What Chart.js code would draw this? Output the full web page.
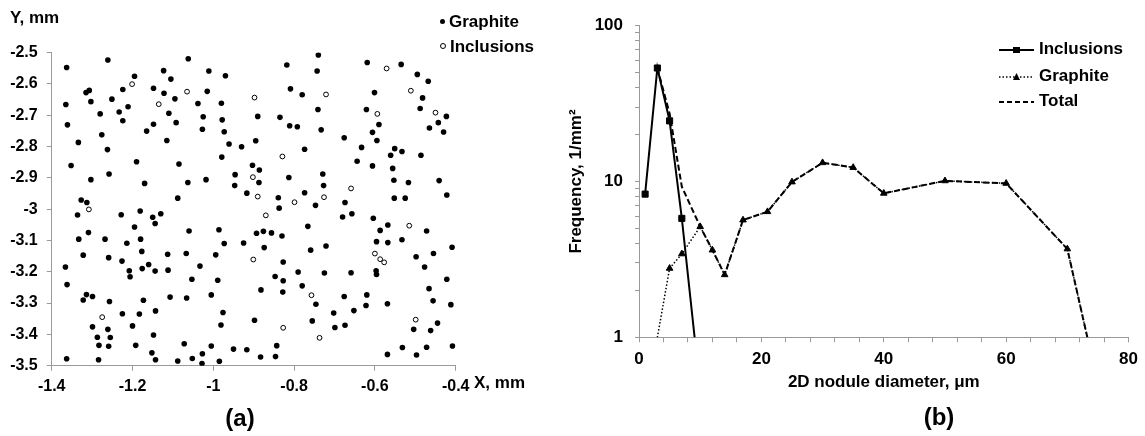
<!DOCTYPE html>
<html lang="en">
<head>
    <meta charset="UTF-8">
    <title>Graphite and inclusions</title>
    <script src="https://cdn.jsdelivr.net/npm/chart.js"></script>
    <style>
        body {
            margin: 0;
            background: #ffffff;
            font-family: 'Liberation Sans', Arial, sans-serif;
            font-weight: bold;
            color: #000;
        }

        #wrap {
            position: relative;
            width: 1145px;
            height: 436px;
            overflow: hidden;
        }

        canvas {
            position: absolute;
            top: 0;
        }

        .txt {
            position: absolute;
            font-size: 17px;
            line-height: 20px;
            white-space: nowrap;
        }

        .caption {
            position: absolute;
            font-size: 24px;
            line-height: 28px;
            transform: translateX(-50%);
        }

        .dot {
            display: inline-block;
            width: 5px;
            height: 5px;
            border-radius: 50%;
            background: #000;
            margin-right: 4px;
            vertical-align: 3px;
        }

        .dot.open {
            width: 4px;
            height: 4px;
            background: #fff;
            border: 1px solid #000;
        }

        .legend-row svg {
            vertical-align: -1px;
            margin-right: 5px;
        }
    </style>
</head>
<body>
<div id="wrap">
    <canvas id="posChart" width="560" height="436" style="left:0"></canvas>
    <canvas id="freqChart" width="585" height="436" style="left:560px"></canvas>

    <div class="txt" style="left:10px; top:8px">Y, mm</div>
    <div class="txt" style="left:474px; top:373px">X, mm</div>
    <div class="txt" style="left:440px; top:12px"><span class="dot"></span>Graphite</div>
    <div class="txt" style="left:440px; top:37px"><span class="dot open"></span>Inclusions</div>

    <div class="txt legend-row" style="left:999px; top:39px">
        <svg width="35" height="10"><line x1="0" y1="5" x2="35" y2="5" stroke="#000" stroke-width="2"/><rect x="14" y="2" width="7" height="6" fill="#000"/></svg>Inclusions</div>
    <div class="txt legend-row" style="left:999px; top:66px">
        <svg width="35" height="10"><line x1="0" y1="5" x2="35" y2="5" stroke="#000" stroke-width="1.5" stroke-dasharray="1.5,2"/><polygon points="17.5,1 21,8 14,8" fill="#000"/></svg>Graphite</div>
    <div class="txt legend-row" style="left:999px; top:91px">
        <svg width="35" height="10"><line x1="0" y1="5" x2="35" y2="5" stroke="#000" stroke-width="2" stroke-dasharray="5,3"/></svg>Total</div>

    <div class="caption" style="left:240px; top:404px">(a)</div>
    <div class="caption" style="left:939px; top:403px">(b)</div>
</div>

<script>
    // (a) nodule positions, mm  [x, y]
    const graphitePos = [
        [-1.363,-2.548],[-1.261,-2.524],[-1.195,-2.576],[-1.062,-2.520],[-1.123,-2.558],[-1.105,-2.585],
        [-1.011,-2.559],[-0.970,-2.574],[-1.365,-2.666],[-1.315,-2.628],[-1.307,-2.621],[-1.303,-2.657],
        [-1.251,-2.649],[-1.224,-2.618],[-1.211,-2.673],[-1.233,-2.690],[-1.224,-2.718],[-1.148,-2.614],
        [-1.122,-2.630],[-1.095,-2.648],[-1.110,-2.694],[-1.038,-2.663],[-1.015,-2.624],[-1.025,-2.705],
        [-1.361,-2.731],[-1.280,-2.696],[-1.276,-2.763],[-1.334,-2.787],[-1.262,-2.810],[-1.352,-2.861],
        [-1.148,-2.729],[-1.165,-2.751],[-1.092,-2.724],[-1.115,-2.781],[-1.027,-2.745],[-0.980,-2.662],
        [-0.978,-2.715],[-0.973,-2.753],[-0.961,-2.792],[-0.930,-2.801],[-0.890,-2.704],[-0.895,-2.782],
        [-1.190,-2.849],[-1.085,-2.856],[-1.258,-2.888],[-1.303,-2.906],[-1.170,-2.918],[-1.063,-2.915],
        [-1.018,-2.906],[-0.979,-2.834],[-0.946,-2.890],[-0.947,-2.925],[-0.903,-2.860],[-0.886,-2.875],
        [-0.887,-2.915],
        [-1.327,-2.971],[-1.313,-2.979],[-1.336,-3.019],[-1.228,-3.018],[-1.181,-3.006],[-1.150,-3.026],
        [-1.144,-3.046],[-1.130,-3.015],[-1.088,-2.965],[-0.917,-2.949],[-0.839,-2.964],[-0.837,-2.997],
        [-1.333,-3.096],[-1.309,-3.075],[-1.268,-3.096],[-1.195,-3.057],[-1.180,-3.096],[-1.214,-3.109],
        [-1.259,-3.155],[-1.322,-3.147],[-1.226,-3.166],[-1.177,-3.135],[-1.176,-3.190],[-1.160,-3.177],
        [-1.144,-3.198],[-1.208,-3.197],[-1.206,-3.216],[-1.113,-3.144],[-1.112,-3.195],[-1.060,-3.070],
        [-1.067,-3.142],[-1.033,-3.182],[-1.053,-3.224],[-0.986,-3.066],[-0.973,-3.110],[-0.994,-3.146],
        [-0.989,-3.227],[-0.925,-3.108],[-0.893,-3.077],[-0.876,-3.071],[-0.856,-3.076],[-0.874,-3.123],
        [-0.830,-3.086],[-0.827,-3.169],[-0.847,-3.215],[-0.827,-3.229],[-0.828,-3.265],[-1.366,-3.185],
        [-1.362,-3.241],[-1.314,-3.273],[-1.299,-3.279],[-1.322,-3.290],[-1.257,-3.295],[-1.173,-3.291],
        [-1.143,-3.325],[-1.225,-3.334],[-1.183,-3.335],[-1.299,-3.376],[-1.261,-3.384],[-1.200,-3.373],
        [-1.287,-3.409],[-1.255,-3.410],[-1.148,-3.402],[-1.283,-3.435],[-1.259,-3.438],[-1.192,-3.435],
        [-1.072,-3.430],[-1.363,-3.478],[-1.284,-3.481],[-1.152,-3.459],[-1.143,-3.481],[-1.088,-3.485],
        [-1.052,-3.477],[-1.027,-3.462],[-1.028,-3.493],[-1.107,-3.281],[-1.066,-3.284],[-1.005,-3.274],
        [-0.976,-3.330],[-0.981,-3.370],[-0.898,-3.355],[-1.005,-3.437],[-0.985,-3.486],[-0.950,-3.447],
        [-0.917,-3.449],[-0.883,-3.472],[-0.882,-3.258],[-0.843,-3.436],[-0.846,-3.471],
        [-0.740,-2.508],[-0.818,-2.540],[-0.743,-2.559],[-0.809,-2.616],[-0.780,-2.635],[-0.619,-2.532],
        [-0.535,-2.538],[-0.495,-2.570],[-0.468,-2.592],[-0.601,-2.628],[-0.482,-2.645],[-0.741,-2.682],
        [-0.835,-2.707],[-0.811,-2.734],[-0.792,-2.737],[-0.733,-2.747],[-0.621,-2.682],[-0.590,-2.730],
        [-0.606,-2.755],[-0.595,-2.781],[-0.488,-2.679],[-0.423,-2.704],[-0.443,-2.724],[-0.465,-2.741],
        [-0.430,-2.754],[-0.676,-2.772],[-0.774,-2.809],[-0.633,-2.803],[-0.551,-2.807],[-0.561,-2.828],
        [-0.533,-2.816],[-0.486,-2.828],[-0.644,-2.847],[-0.606,-2.862],[-0.556,-2.870],[-0.813,-2.899],
        [-0.729,-2.888],[-0.727,-2.925],[-0.553,-2.908],[-0.517,-2.915],[-0.441,-2.909],
        [-0.774,-2.948],[-0.747,-2.988],[-0.674,-2.979],[-0.680,-3.025],[-0.657,-3.015],[-0.604,-3.029],
        [-0.552,-2.965],[-0.525,-2.965],[-0.422,-2.955],[-0.766,-3.055],[-0.759,-3.131],[-0.721,-3.118],
        [-0.790,-3.201],[-0.780,-3.245],[-0.725,-3.204],[-0.659,-3.203],[-0.587,-3.068],[-0.568,-3.051],
        [-0.596,-3.104],[-0.568,-3.107],[-0.533,-3.098],[-0.472,-3.070],[-0.409,-3.122],[-0.498,-3.152],
        [-0.455,-3.142],[-0.477,-3.185],[-0.597,-3.197],[-0.596,-3.209],[-0.422,-3.224],[-0.466,-3.254],
        [-0.456,-3.293],[-0.412,-3.305],[-0.746,-3.304],[-0.676,-3.279],[-0.620,-3.274],[-0.622,-3.308],
        [-0.652,-3.324],[-0.702,-3.332],[-0.569,-3.302],[-0.755,-3.357],[-0.699,-3.378],[-0.674,-3.371],
        [-0.504,-3.384],[-0.462,-3.388],[-0.445,-3.364],[-0.569,-3.464],[-0.532,-3.442],[-0.497,-3.466],
        [-0.472,-3.441],[-0.408,-3.437]
    ];

    const inclusionPos = [
        [-1.201,-2.601],[-1.135,-2.665],[-1.065,-2.625],[-0.898,-2.644],[-0.902,-2.898],
        [-1.308,-3.001],[-0.890,-2.960],[-0.870,-3.020],[-0.901,-3.161],[-1.275,-3.345],[-0.827,-3.379],
        [-0.721,-2.634],[-0.571,-2.551],[-0.511,-2.622],[-0.594,-2.696],[-0.450,-2.692],[-0.829,-2.832],
        [-0.659,-2.934],[-0.799,-2.978],[-0.726,-2.962],[-0.515,-3.053],[-0.600,-3.142],[-0.587,-3.160],
        [-0.577,-3.170],[-0.757,-3.275],[-0.737,-3.411],[-0.499,-3.353]
    ];

    // (b) size distribution: diameter (um) and frequency (1/mm2)
    const inclDiam = [1, 3, 5, 7, 11];
    const inclFreq = [8.3, 53.5, 24.5, 5.8, 0.2];
    const graphDiam = [1, 5, 7, 10, 12, 14, 17, 21, 25, 30, 35, 40, 50, 60, 70, 75];
    const graphFreq = [0.36, 2.77, 3.43, 5.13, 3.63, 2.52, 5.66, 6.4, 9.93, 13.2, 12.3, 8.4, 10.1, 9.73, 3.69, 0.5];
    const totalDiam = [3, 5, 7, 10, 12, 14, 17, 21, 25, 30, 35, 40, 50, 60, 70, 75];
    const totalFreq = [53.5, 27.3, 9.26, 5.13, 3.63, 2.52, 5.66, 6.4, 9.93, 13.2, 12.3, 8.4, 10.1, 9.73, 3.69, 0.5];

    const axisGray = '#9a9a9a';

    Chart.defaults.font.family = "'Liberation Sans', Arial, sans-serif";
    Chart.defaults.font.weight = 'bold';
    Chart.defaults.color = '#000';

    const toXY = (xs, ys) => xs.map((x, i) => ({ x: x, y: ys[i] }));
    const pairs = list => list.map(p => ({ x: p[0], y: p[1] }));
    const fmt1 = v => String(Math.round(v * 10) / 10);

    new Chart(document.getElementById('posChart'), {
        type: 'scatter',
        data: {
            datasets: [
                {
                    label: 'Graphite',
                    data: pairs(graphitePos),
                    pointRadius: 2.8,
                    pointBackgroundColor: '#000',
                    pointBorderWidth: 0
                },
                {
                    label: 'Inclusions',
                    data: pairs(inclusionPos),
                    pointRadius: 2.4,
                    pointBackgroundColor: '#fff',
                    pointBorderColor: '#000',
                    pointBorderWidth: 1
                }
            ]
        },
        options: {
            responsive: false,
            animation: false,
            layout: { padding: { left: 0, top: 52.5, right: 104.3, bottom: 40.3 } },
            plugins: { legend: { display: false }, tooltip: { enabled: false } },
            scales: {
                x: {
                    type: 'linear',
                    min: -1.4,
                    max: -0.4,
                    afterFit: s => { s.height = 30; },
                    border: { color: axisGray, width: 1 },
                    grid: { drawOnChartArea: false, tickLength: 5, tickColor: axisGray },
                    ticks: { stepSize: 0.2, maxRotation: 0, padding: 6, font: { size: 16 }, callback: fmt1 }
                },
                y: {
                    min: -3.5,
                    max: -2.5,
                    afterFit: s => { s.width = 51.7; },
                    border: { color: axisGray, width: 1 },
                    grid: { drawOnChartArea: false, tickLength: 5, tickColor: axisGray },
                    ticks: { stepSize: 0.1, padding: 9, font: { size: 16 }, callback: fmt1 }
                }
            }
        }
    });

    new Chart(document.getElementById('freqChart'), {
        type: 'line',
        data: {
            datasets: [
                {
                    label: 'Inclusions',
                    data: toXY(inclDiam, inclFreq),
                    borderColor: '#000',
                    borderWidth: 2,
                    pointStyle: 'rect',
                    pointRadius: 4.3,
                    pointBackgroundColor: '#000',
                    pointBorderColor: '#000',
                    pointBorderWidth: 1
                },
                {
                    label: 'Graphite',
                    data: toXY(graphDiam, graphFreq),
                    borderColor: '#000',
                    borderWidth: 1.5,
                    borderDash: [1.5, 2],
                    pointStyle: 'triangle',
                    pointRadius: 3.8,
                    pointBackgroundColor: '#000',
                    pointBorderColor: '#000',
                    pointBorderWidth: 1
                },
                {
                    label: 'Total',
                    data: toXY(totalDiam, totalFreq),
                    borderColor: '#000',
                    borderWidth: 2,
                    borderDash: [6, 3],
                    pointRadius: 0
                }
            ]
        },
        options: {
            responsive: false,
            animation: false,
            layout: { padding: { left: 0, top: 25.7, right: 12.7, bottom: 43.1 } },
            plugins: { legend: { display: false }, tooltip: { enabled: false } },
            scales: {
                x: {
                    type: 'linear',
                    min: 0,
                    max: 80,
                    afterFit: s => { s.height = 55.6; },
                    border: { color: axisGray, width: 1 },
                    grid: { drawOnChartArea: false, tickLength: 5, tickColor: axisGray },
                    ticks: {
                        stepSize: 4,
                        autoSkip: false,
                        maxRotation: 0,
                        minRotation: 0,
                        padding: 7,
                        font: { size: 17 },
                        callback: v => (v % 20 === 0 ? String(v) : '')
                    },
                    title: {
                        display: true,
                        text: '2D nodule diameter, μm',
                        font: { size: 17, weight: 'bold' },
                        padding: { top: 0, bottom: 0 }
                    }
                },
                y: {
                    type: 'logarithmic',
                    min: 1,
                    max: 100,
                    afterFit: s => { s.width = 79; },
                    afterBuildTicks: s => {
                        const vals = [];
                        [1, 10].forEach(dec => {
                            for (let k = 1; k < 10; k++) vals.push(k * dec);
                        });
                        vals.push(100);
                        s.ticks = vals.map(v => ({ value: v, major: v === 1 || v === 10 || v === 100 }));
                    },
                    border: { color: axisGray, width: 1 },
                    grid: { drawOnChartArea: false, tickLength: 4, tickColor: axisGray },
                    ticks: {
                        autoSkip: false,
                        padding: 12,
                        font: { size: 17 },
                        callback: v => (v === 1 || v === 10 || v === 100 ? String(v) : '')
                    },
                    title: {
                        display: true,
                        text: 'Frequency, 1/mm²',
                        font: { size: 17, weight: 'bold' },
                        padding: { top: 6.5, bottom: 0 }
                    }
                }
            }
        }
    });
</script>
</body>
</html>
